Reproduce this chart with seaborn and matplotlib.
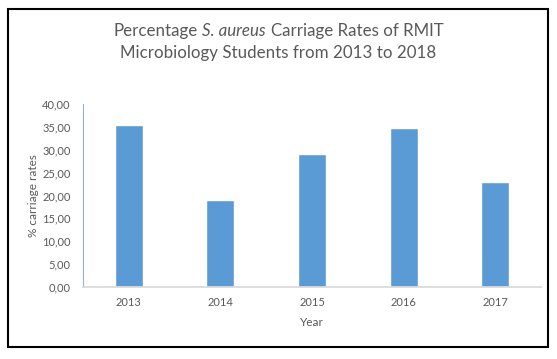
import matplotlib
matplotlib.use("Agg")
import matplotlib.pyplot as plt
import matplotlib.patches as mpatches
from matplotlib.offsetbox import TextArea, HPacker, AnchoredOffsetbox
from matplotlib.ticker import FuncFormatter
import seaborn as sns
import pandas as pd

# Données du graphique
years = ["2013", "2014", "2015", "2016", "2017"]
carriage_rates = [35.4, 19.1, 29.0, 34.7, 22.9]
y_ticks = [0, 5, 10, 15, 20, 25, 30, 35, 40]

df = pd.DataFrame({"Year": years, "Rate": carriage_rates})

sns.set_theme(style="white")
plt.rcParams['font.family'] = ['Lato', 'DejaVu Sans']

W, H = 557, 359
grey = "#595959"
fig = plt.figure(figsize=(W / 100, H / 100), dpi=100)
ax = fig.add_axes([83 / W, 1 - 287 / H, (541 - 83) / W, (287 - 104) / H])

sns.barplot(data=df, x="Year", y="Rate", color="#5b9bd5", width=0.305,
            saturation=1, ax=ax)

ax.set_ylim(0, 40)
ax.set_yticks(y_ticks)
ax.yaxis.set_major_formatter(FuncFormatter(lambda v, p: f"{v:.2f}".replace(".", ",")))
ax.tick_params(axis="both", colors=grey, labelsize=8, length=0)
ax.tick_params(axis="y", pad=9)
ax.tick_params(axis="x", pad=7)

for side in ["top", "right"]:
    ax.spines[side].set_visible(False)
ax.spines["bottom"].set_color("#d9d9d9")
ax.spines["left"].set_color("#8fb4d9")
ax.spines["left"].set_linewidth(0.8)

ax.set_xlabel("Year", color=grey, fontsize=8.5, labelpad=7)
ax.set_ylabel("% carriage rates", color=grey, fontsize=8.5, labelpad=2)

# Titre sur deux lignes, avec le nom d'espèce en italique
title_props = dict(fontsize=12.2, color=grey)
line1 = HPacker(children=[TextArea("Percentage", textprops=title_props),
                          TextArea("S. aureus", textprops=dict(style="italic", **title_props)),
                          TextArea("Carriage Rates of RMIT", textprops=title_props)],
                align="baseline", pad=0, sep=3.3)
fig.add_artist(AnchoredOffsetbox(loc="center", child=line1, frameon=False, pad=0,
                                 bbox_to_anchor=(0.5, 1 - 31 / H),
                                 bbox_transform=fig.transFigure))
fig.text(0.5, 1 - 53 / H, "Microbiology Students from 2013 to 2018",
         ha="center", va="center", **title_props)

# Cadre noir autour du graphique
fig.patches.append(mpatches.Rectangle((8 / W, 1 - 347 / H), (548 - 8) / W, (347 - 9) / H,
                                      transform=fig.transFigure, fill=False,
                                      edgecolor="black", linewidth=1.5))

fig.savefig("out.png", dpi=100)
